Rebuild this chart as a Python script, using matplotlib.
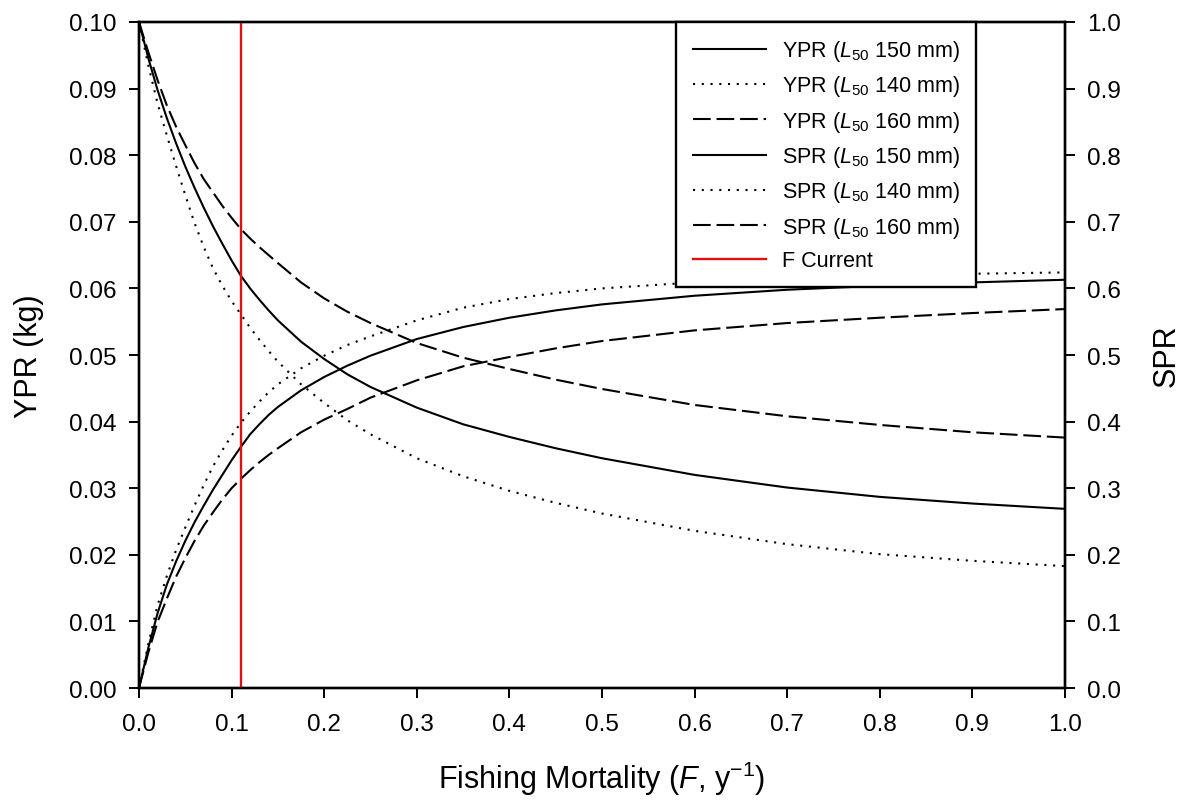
import matplotlib

matplotlib.use("Agg")
import matplotlib.pyplot as plt

plt.rcParams["font.family"] = ["Liberation Sans", "DejaVu Sans"]
plt.rcParams["mathtext.fontset"] = "custom"
plt.rcParams["mathtext.rm"] = "Liberation Sans"
plt.rcParams["mathtext.it"] = "Liberation Sans:italic"

# Mortalidade por pesca (F, ano^-1)
F = [0, 0.01, 0.02, 0.03, 0.04, 0.05, 0.06, 0.07, 0.08, 0.09, 0.10, 0.11,
     0.12, 0.13, 0.14, 0.15, 0.175, 0.2, 0.225, 0.25, 0.3, 0.35, 0.4, 0.45,
     0.5, 0.6, 0.7, 0.8, 0.9, 1.0]

# Rendimento por recruta (kg)
ypr_150 = [0, 0.0060, 0.0112, 0.0155, 0.0190, 0.0221, 0.0249, 0.0274, 0.0298,
           0.0320, 0.0342, 0.0362, 0.0381, 0.0396, 0.0410, 0.0422, 0.0447,
           0.0467, 0.0484, 0.0499, 0.0524, 0.0542, 0.0556, 0.0567, 0.0576,
           0.0589, 0.0598, 0.0604, 0.0609, 0.0613]
ypr_140 = [0, 0.0066, 0.0124, 0.0168, 0.0207, 0.0241, 0.0274, 0.0305, 0.0333,
           0.0357, 0.0379, 0.0398, 0.0415, 0.0430, 0.0444, 0.0456, 0.0480,
           0.0499, 0.0515, 0.0528, 0.0552, 0.0571, 0.0584, 0.0593, 0.0600,
           0.0609, 0.0615, 0.0619, 0.0622, 0.0624]
ypr_160 = [0, 0.0053, 0.0099, 0.0134, 0.0167, 0.0195, 0.0221, 0.0244, 0.0264,
           0.0283, 0.0300, 0.0314, 0.0327, 0.0339, 0.0350, 0.0360, 0.0384,
           0.0403, 0.0419, 0.0436, 0.0462, 0.0483, 0.0497, 0.0510, 0.0521,
           0.0537, 0.0548, 0.0556, 0.0563, 0.0569]

# Potencial reprodutivo por recruta
spr_150 = [1.0, 0.946, 0.898, 0.856, 0.818, 0.783, 0.751, 0.721, 0.693, 0.667,
           0.642, 0.619, 0.600, 0.583, 0.567, 0.552, 0.520, 0.494, 0.471, 0.452,
           0.421, 0.396, 0.377, 0.360, 0.345, 0.320, 0.301, 0.287, 0.277, 0.269]
spr_140 = [1.0, 0.935, 0.878, 0.830, 0.784, 0.740, 0.698, 0.662, 0.630, 0.604,
           0.581, 0.561, 0.541, 0.523, 0.506, 0.490, 0.456, 0.428, 0.402, 0.381,
           0.345, 0.318, 0.296, 0.278, 0.262, 0.236, 0.216, 0.201, 0.191, 0.183]
spr_160 = [1.0, 0.955, 0.913, 0.875, 0.843, 0.815, 0.788, 0.764, 0.744, 0.724,
           0.706, 0.689, 0.675, 0.662, 0.650, 0.638, 0.609, 0.585, 0.565, 0.548,
           0.518, 0.496, 0.479, 0.463, 0.449, 0.425, 0.408, 0.395, 0.384, 0.376]

F_CURRENT = 0.11

SOLID = "-"
DOTTED = (0, (1, 3.2))
DASHED = (0, (8.5, 2.8))
LW = 1.5


def main() -> None:
    fig = plt.figure(figsize=(11.86, 8.04), dpi=100)
    ax = fig.add_axes([0.1172, 0.1430, 0.7808, 0.8284])
    ax2 = ax.twinx()

    h1, = ax.plot(F, ypr_150, color="black", ls=SOLID, lw=LW,
                  label=r"YPR ($L_{\mathit{50}}$ 150 mm)")
    h2, = ax.plot(F, ypr_140, color="black", ls=DOTTED, lw=LW,
                  label=r"YPR ($L_{\mathit{50}}$ 140 mm)")
    h3, = ax.plot(F, ypr_160, color="black", ls=DASHED, lw=LW,
                  label=r"YPR ($L_{\mathit{50}}$ 160 mm)")
    h4, = ax2.plot(F, spr_150, color="black", ls=SOLID, lw=LW,
                   label=r"SPR ($L_{\mathit{50}}$ 150 mm)")
    h5, = ax2.plot(F, spr_140, color="black", ls=DOTTED, lw=LW,
                   label=r"SPR ($L_{\mathit{50}}$ 140 mm)")
    h6, = ax2.plot(F, spr_160, color="black", ls=DASHED, lw=LW,
                   label=r"SPR ($L_{\mathit{50}}$ 160 mm)")
    h7 = ax2.axvline(F_CURRENT, color="#e01010", lw=1.7, label="F Current")

    ax.set_xlim(0, 1.0)
    ax.set_ylim(0, 0.10)
    ax2.set_ylim(0, 1.0)
    ax.set_xticks([i / 10 for i in range(11)])
    ax.set_yticks([i / 100 for i in range(11)])
    ax2.set_yticks([i / 10 for i in range(11)])
    ax.xaxis.set_major_formatter(lambda v, p: f"{v:.1f}")
    ax.yaxis.set_major_formatter(lambda v, p: f"{v:.2f}")
    ax2.yaxis.set_major_formatter(lambda v, p: f"{v:.1f}")

    for a in (ax, ax2):
        a.tick_params(direction="out", length=7, width=1.4, labelsize=17.5,
                      pad=9)
        for s in a.spines.values():
            s.set_linewidth(1.7)
    ax.tick_params(axis="x", top=False, pad=11)

    ax.set_xlabel(r"Fishing Mortality ($F$, y$^{-1}$)", fontsize=22,
                  labelpad=17)
    ax.set_ylabel("YPR (kg)", fontsize=22, labelpad=18)
    ax2.set_ylabel("SPR", fontsize=22, labelpad=22)

    leg = ax2.legend(handles=[h1, h2, h3, h4, h5, h6, h7],
                     loc="upper right", bbox_to_anchor=(0.904, 1.0),
                     borderaxespad=0, fancybox=False, framealpha=1,
                     edgecolor="black", fontsize=15.5, handlelength=3.4,
                     handletextpad=0.75, labelspacing=0.48, borderpad=0.75)
    leg.get_frame().set_linewidth(1.7)
    leg.set_zorder(10)

    fig.savefig("out.png", dpi=100)
    plt.close(fig)


if __name__ == "__main__":
    main()
